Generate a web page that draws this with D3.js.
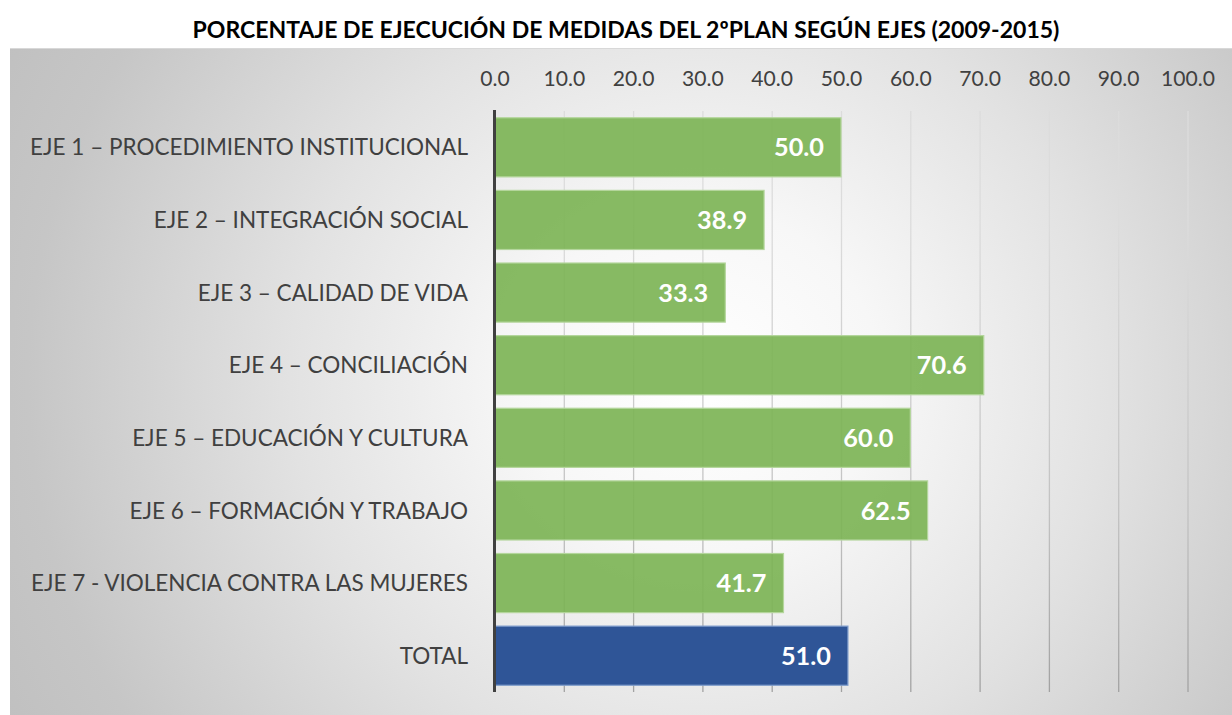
<!DOCTYPE html>
<html><head><meta charset="utf-8">
<script src="https://cdn.jsdelivr.net/npm/d3@7"></script>
<style>html,body{margin:0;padding:0;background:#fff;}svg{display:block;}</style>
</head><body>
<svg id="chart" width="1232" height="715"></svg>
<script>
const title = "PORCENTAJE DE EJECUCIÓN DE MEDIDAS DEL 2ºPLAN SEGÚN EJES (2009-2015)";
const categories = [
  "EJE 1 – PROCEDIMIENTO INSTITUCIONAL",
  "EJE 2 – INTEGRACIÓN SOCIAL",
  "EJE 3 – CALIDAD DE VIDA",
  "EJE 4 – CONCILIACIÓN",
  "EJE 5 – EDUCACIÓN Y CULTURA",
  "EJE 6 – FORMACIÓN Y TRABAJO",
  "EJE 7 - VIOLENCIA CONTRA LAS MUJERES",
  "TOTAL"
];
const values = [50.0, 38.9, 33.3, 70.6, 60.0, 62.5, 41.7, 51.0];
const tickValues = [0, 10, 20, 30, 40, 50, 60, 70, 80, 90, 100];

const FONT = "Lato, 'Open Sans', sans-serif";
const svg = d3.select("#chart");
const defs = svg.append("defs");

// background gradient
const rg = defs.append("radialGradient").attr("id","bg")
  .attr("gradientUnits","userSpaceOnUse")
  .attr("cx",700).attr("cy",380).attr("r",820)
  .attr("gradientTransform","translate(700,380) scale(1,0.95) translate(-700,-380)");
[[0,"#ffffff"],[0.22,"#f7f7f7"],[0.5,"#e2e2e2"],[0.82,"#c6c6c6"],[1,"#bebebe"]].forEach(([o,c])=>
  rg.append("stop").attr("offset",o).attr("stop-color",c));

const gg = defs.append("linearGradient").attr("id","grid")
  .attr("gradientUnits","userSpaceOnUse").attr("x1",0).attr("y1",111).attr("x2",0).attr("y2",692);
gg.append("stop").attr("offset",0).attr("stop-color","#dcdcdc");
gg.append("stop").attr("offset",0.5).attr("stop-color","#c2c2c2");
gg.append("stop").attr("offset",1).attr("stop-color","#8e8e8e");

svg.append("rect").attr("x",10).attr("y",48).attr("width",1222).attr("height",667)
  .attr("fill","url(#bg)");
svg.append("line").attr("x1",10).attr("x2",1232).attr("y1",48.5).attr("y2",48.5)
  .attr("stroke","#d8d8d8").attr("stroke-width",1);

const x = d3.scaleLinear().domain([0,100]).range([494.5,1187.5]);
const y = d3.scaleBand().domain(categories).range([111,692]).paddingInner(0.186).paddingOuter(0.093);

function fit(sel, target, base){
  const w = sel.node().getComputedTextLength();
  return base*target/w;
}

// title
const t = svg.append("text").attr("x",626).attr("y",38).attr("text-anchor","middle")
  .attr("font-family",FONT).attr("font-weight","bold").attr("font-size",20).attr("fill","#000").text(title);
t.attr("font-size", fit(t, 867, 20));

// grid + tick labels
const axis = d3.axisTop(x).tickValues(tickValues).tickFormat(d3.format(".1f"))
  .tickSizeInner(-581).tickSizeOuter(0).tickPadding(25);
const ga = svg.append("g").attr("transform","translate(0,111)").call(axis);
ga.select(".domain").remove();
ga.selectAll(".tick line").attr("stroke","url(#grid)").attr("stroke-width",1.3);
ga.selectAll(".tick text").attr("font-family",FONT).attr("fill","#404040").attr("font-size",20);
const tt = ga.selectAll(".tick text").filter(d=>d===100);
const tickSize = fit(tt, 54, 20);
ga.selectAll(".tick text").attr("font-size", tickSize);
ga.selectAll(".tick").filter(d=>d===0).select("line").remove();

// bars
svg.append("g").selectAll("rect").data(categories).join("rect")
  .attr("x", x(0))
  .attr("y", d=>y(d))
  .attr("width", (d,i)=>x(values[i])-x(0))
  .attr("height", y.bandwidth())
  .attr("fill", (d,i)=> i===categories.length-1 ? "#2f5597" : "#7db456")
  .attr("fill-opacity", (d,i)=> i===categories.length-1 ? 1 : 0.92)
  .attr("stroke", (d,i)=> i===categories.length-1 ? "#7f9dcc" : "#b4d69c")
  .attr("stroke-width", 1.2);

// value labels
const vl = svg.append("g").selectAll("text").data(categories).join("text")
  .attr("x", (d,i)=>x(values[i]) - 17)
  .attr("y", d=>y(d)+y.bandwidth()/2)
  .attr("dy","0.36em")
  .attr("text-anchor","end")
  .attr("font-family",FONT).attr("font-weight","bold").attr("font-size",22)
  .attr("fill","#ffffff")
  .text((d,i)=>d3.format(".1f")(values[i]));
const vs = fit(vl.filter((d,i)=>i===0), 50, 22);
vl.attr("font-size", vs);

// category labels
const cl = svg.append("g").selectAll("text").data(categories).join("text")
  .attr("x", 468)
  .attr("y", d=>y(d)+y.bandwidth()/2)
  .attr("dy","0.36em")
  .attr("text-anchor","end")
  .attr("font-family",FONT).attr("font-size",20).attr("fill","#404040")
  .text(d=>d);
const cs = fit(cl.filter((d,i)=>i===0), 438, 20);
cl.attr("font-size", cs);

// zero axis line
svg.append("line").attr("x1",x(0)).attr("x2",x(0)).attr("y1",110).attr("y2",692)
  .attr("stroke","#404040").attr("stroke-width",3);
</script>
</body></html>
